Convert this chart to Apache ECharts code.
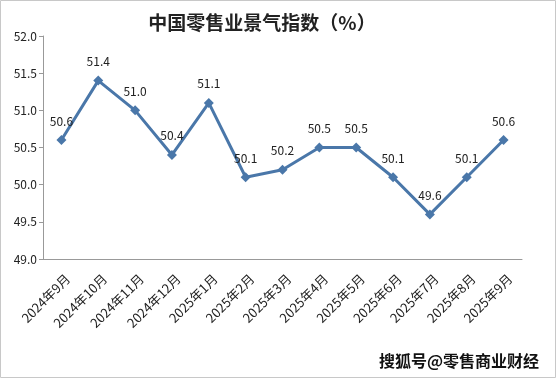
<!DOCTYPE html>
<html lang="zh">
<head>
<meta charset="UTF-8">
<title>中国零售业景气指数</title>
<script src="https://cdn.jsdelivr.net/npm/echarts@6/dist/echarts.min.js"></script>
<style>
  html, body { margin: 0; padding: 0; background: #fff; }
  #main { width: 556px; height: 378px; }
</style>
</head>
<body>
<div id="main"></div>
<script>
// 月份
var months = ['2024年9月', '2024年10月', '2024年11月', '2024年12月', '2025年1月', '2025年2月',
  '2025年3月', '2025年4月', '2025年5月', '2025年6月', '2025年7月', '2025年8月', '2025年9月'];
// 景气指数
var indexValues = [50.6, 51.4, 51.0, 50.4, 51.1, 50.1, 50.2, 50.5, 50.5, 50.1, 49.6, 50.1, 50.6];

var font = '"Noto Sans CJK SC", "Noto Sans", sans-serif';
var chart = echarts.init(document.getElementById('main'));

var option = {
  animation: false,
  title: {
    text: '中国零售业景气指数（%）',
    left: 257, top: 8, textAlign: 'center',
    textStyle: { fontFamily: font, fontSize: 19, fontWeight: 'bold', color: '#222' }
  },
  grid: { left: 43, right: 34, top: 36, bottom: 119 },
  xAxis: {
    type: 'category',
    data: months,
    axisLine: { lineStyle: { color: '#999' } },
    axisTick: { inside: true, length: 4, lineStyle: { color: '#999' } },
    axisLabel: {
      rotate: 45, interval: 0, margin: 11,
      fontFamily: font, fontSize: 13, color: '#222',
      formatter: '{m|{value}}',
      rich: {
        m: { fontFamily: font, fontSize: 13, color: '#222', padding: [18, 0, 0, 0] }
      }
    }
  },
  yAxis: {
    type: 'value',
    min: 49, max: 52, interval: 0.5,
    axisLine: { show: true, lineStyle: { color: '#999' } },
    axisTick: { show: true, length: 4, lineStyle: { color: '#999' } },
    splitLine: { show: false },
    axisLabel: {
      margin: 6, fontFamily: font, fontSize: 12, color: '#222',
      formatter: function (v) { return v.toFixed(1); }
    }
  },
  series: [{
    type: 'line',
    data: indexValues,
    symbol: 'diamond',
    symbolSize: 10,
    lineStyle: { color: '#4a77a9', width: 3 },
    itemStyle: { color: '#4a77a9' },
    label: {
      show: true, position: 'top', distance: 8,
      fontFamily: font, fontSize: 12, color: '#222',
      formatter: function (p) { return p.value.toFixed(1); }
    }
  }],
  graphic: [
    {
      type: 'rect', silent: true,
      shape: { x: 0.5, y: 0.5, width: 555, height: 377 },
      style: { fill: 'none', stroke: '#c8c8c8', lineWidth: 1 }
    },
    {
      type: 'text', right: 16, bottom: 8,
      style: {
        text: '搜狐号@零售商业财经',
        font: 'bold 16px ' + font,
        fill: '#111', stroke: '#fff', lineWidth: 2
      }
    }
  ]
};

chart.setOption(option);
</script>
</body>
</html>
